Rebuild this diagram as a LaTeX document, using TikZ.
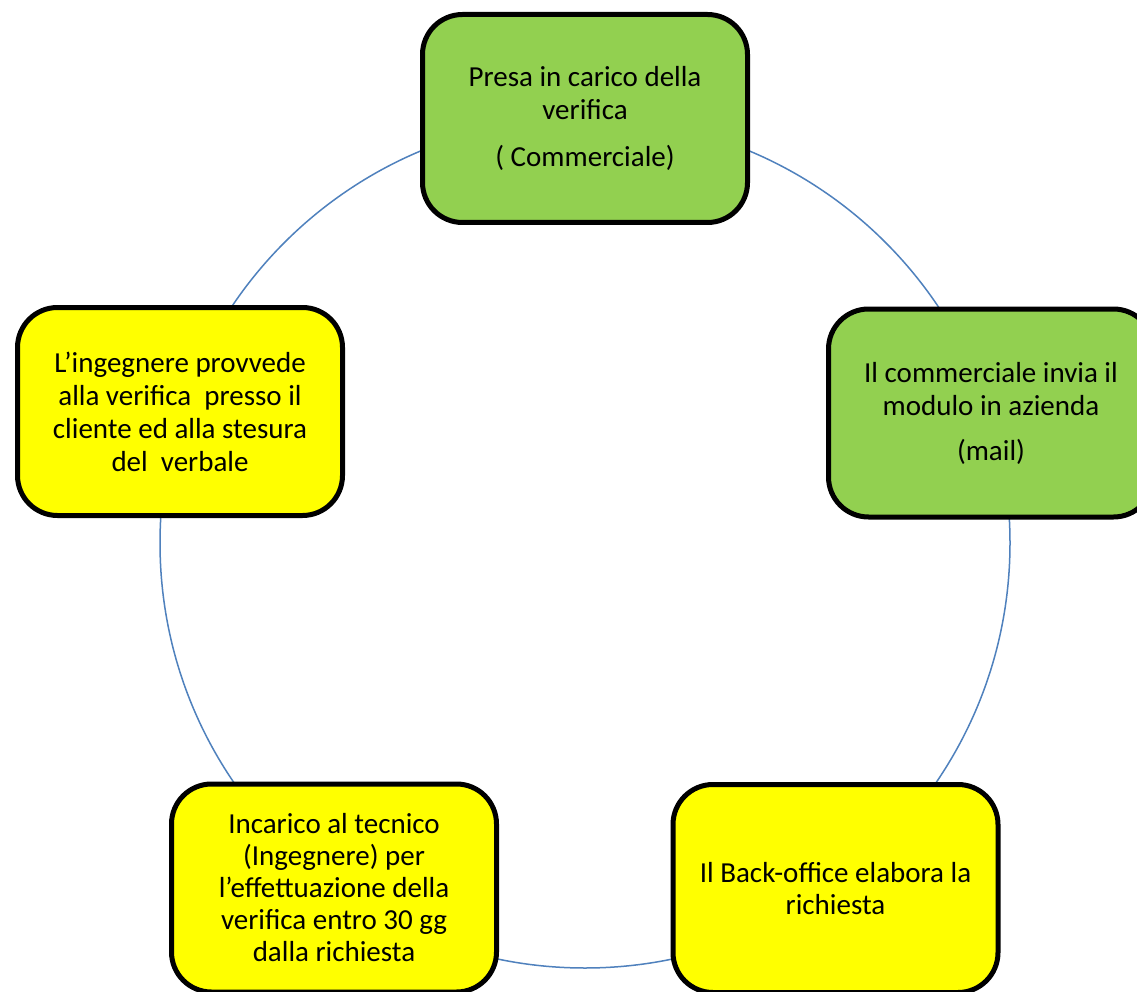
\documentclass[tikz,border=0pt]{standalone}
\usepackage{fontspec}
\setmainfont{Carlito}
\definecolor{boxgreen}{HTML}{92D050}
\definecolor{boxyellow}{HTML}{FFFF00}
\definecolor{ringblue}{HTML}{4F81BD}
\begin{document}
\begin{tikzpicture}[x=1pt,y=-1pt,
  stepbox/.style={draw=black, line width=5pt, rounded corners=40pt,
    minimum width=325pt, minimum height=208pt, align=center,
    font=\fontsize{29}{33}\selectfont, inner sep=0pt},
  greenbox/.style={stepbox, fill=boxgreen},
  yellowbox/.style={stepbox, fill=boxyellow},
  tallbox/.style={yellowbox, font=\fontsize{29}{32}\selectfont},
  ring/.style={draw=ringblue, line width=1.5pt}]
\useasboundingbox (0,0) rectangle (1137,992);
\clip (0,0) rectangle (1137,992);
\fill[white] (0,0) rectangle (1137,992);
\draw[ring] (585,543) circle[radius=425];
\node[greenbox] (n1) at (585,118.5) {Presa in carico della\\verifica\\[14pt]( Commerciale)};
\node[greenbox] (n2) at (991,413) {Il commerciale invia il\\modulo in azienda\\[12pt](mail)};
\node[tallbox] (n3) at (835.5,888.5) {Il Back-office elabora la\\richiesta};
\node[tallbox] (n4) at (334,888) {Incarico al tecnico\\(Ingegnere) per\\l’effettuazione della\\verifica entro 30 gg\\dalla richiesta};
\node[yellowbox] (n5) at (180,411.5) {L’ingegnere provvede\\alla verifica \ presso il\\cliente ed alla stesura\\del \ verbale};
\end{tikzpicture}
\end{document}
